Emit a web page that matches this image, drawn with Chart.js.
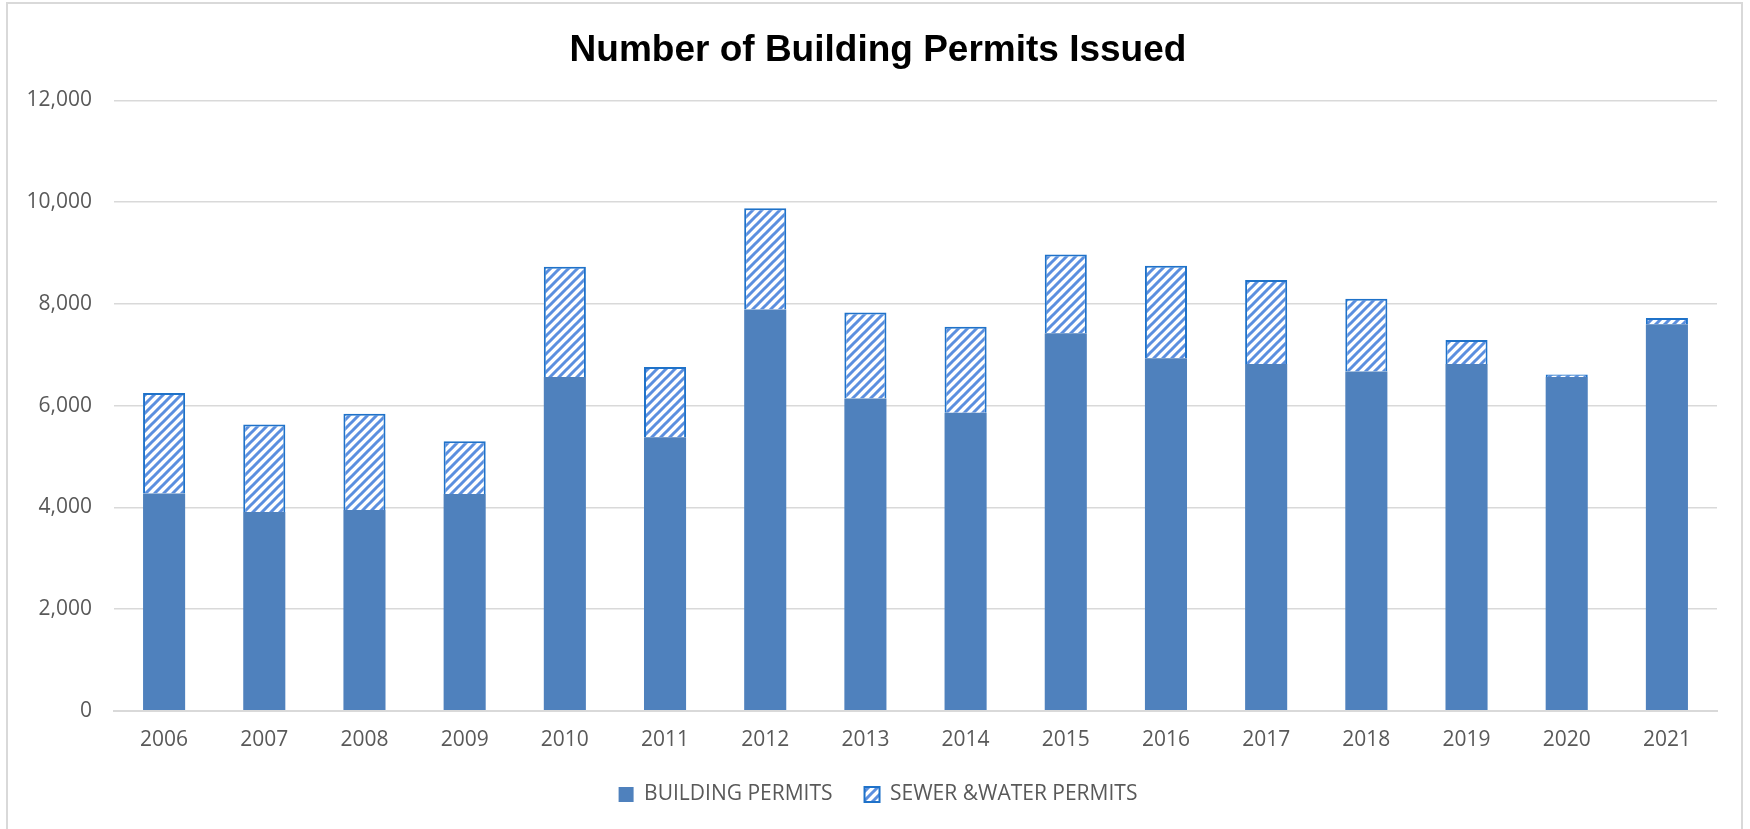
<!DOCTYPE html>
<html>
<head>
<meta charset="utf-8">
<script src="https://cdn.jsdelivr.net/npm/chart.js@4.4.1/dist/chart.umd.min.js"></script>
<style>
  html, body { margin: 0; padding: 0; background: #fff; }
  #wrap { position: relative; width: 1750px; height: 829px; }
</style>
</head>
<body>
<div id="wrap"><canvas id="permitsChart" width="1750" height="829"></canvas></div>
<script>
// valores
const years = ['2006', '2007', '2008', '2009', '2010', '2011', '2012', '2013',
               '2014', '2015', '2016', '2017', '2018', '2019', '2020', '2021'];
const buildingPermits = [4270, 3910, 3950, 4260, 6560, 5380, 7890, 6140,
                         5860, 7420, 6930, 6820, 6670, 6820, 6560, 7600];
const sewerWaterPermits = [1980, 1720, 1890, 1040, 2170, 1380, 1990, 1690,
                           1690, 1550, 1820, 1650, 1430, 470, 50, 120];
const yTicks = [0, 2000, 4000, 6000, 8000, 10000, 12000];

const textColor = '#595959';
const gridColor = '#d9d9d9';

// padrão listrado da série de esgoto/água
function makeHatch() {
  const s = 9;
  const c = document.createElement('canvas');
  c.width = s; c.height = s;
  const g = c.getContext('2d');
  g.fillStyle = '#ffffff';
  g.fillRect(0, 0, s, s);
  g.strokeStyle = '#5b8fdf';
  g.lineWidth = 3;
  g.beginPath();
  g.moveTo(-2, s + 2); g.lineTo(s + 2, -2);
  g.moveTo(-s, s); g.lineTo(s, -s);
  g.moveTo(0, 2 * s); g.lineTo(2 * s, 0);
  g.stroke();
  return g.createPattern(c, 'repeat');
}

// moldura cinza em volta do gráfico
const frame = {
  id: 'frame',
  afterDraw(chart) {
    const ctx = chart.ctx;
    ctx.save();
    ctx.strokeStyle = gridColor;
    ctx.lineWidth = 2;
    ctx.strokeRect(7, 3, 1735, 840);
    ctx.restore();
  }
};

const ctx = document.getElementById('permitsChart').getContext('2d');
new Chart(ctx, {
  type: 'bar',
  data: {
    labels: years,
    datasets: [
      {
        label: 'BUILDING PERMITS',
        data: buildingPermits,
        backgroundColor: '#4f81bd',
        borderWidth: 0
      },
      {
        label: 'SEWER &WATER PERMITS',
        data: sewerWaterPermits,
        backgroundColor: makeHatch(),
        borderColor: '#1f72c9',
        borderWidth: 2
      }
    ]
  },
  options: {
    responsive: false,
    animation: false,
    devicePixelRatio: 1,
    layout: { padding: { top: 19, left: 24, right: 18, bottom: 14 } },
    datasets: { bar: { barPercentage: 0.42, categoryPercentage: 1 } },
    plugins: {
      title: {
        display: true,
        text: 'Number of Building Permits Issued',
        color: '#000',
        font: { family: '"Liberation Sans", Arial, sans-serif', size: 37, weight: 'bold' },
        padding: { top: 10, bottom: 27 }
      },
      legend: {
        position: 'bottom',
        labels: {
          color: textColor,
          font: { family: '"Open Sans", sans-serif', size: 21 },
          boxWidth: 15,
          boxHeight: 15,
          padding: 32
        }
      },
      tooltip: { enabled: false }
    },
    scales: {
      x: {
        stacked: true,
        grid: { display: false },
        border: { color: gridColor, width: 2 },
        afterFit: axis => { axis.height -= 10; },
        ticks: {
          color: textColor,
          padding: 9,
          font: { family: '"Open Sans", sans-serif', size: 21 }
        }
      },
      y: {
        stacked: true,
        min: 0,
        max: 12000,
        afterBuildTicks: axis => { axis.ticks = yTicks.map(v => ({ value: v })); },
        afterFit: axis => { axis.width = 90; },
        grid: { color: gridColor, lineWidth: 1.5, drawTicks: false },
        border: { display: false },
        ticks: {
          color: textColor,
          padding: 22,
          font: { family: '"Open Sans", sans-serif', size: 21 },
          callback: v => v.toLocaleString('en-US')
        }
      },
      // espaço vazio à direita, só para centralizar título e legenda como no original
      yRight: {
        position: 'right',
        display: false,
        afterFit: axis => { axis.width = 15; }
      }
    }
  },
  plugins: [frame]
});
</script>
</body>
</html>
